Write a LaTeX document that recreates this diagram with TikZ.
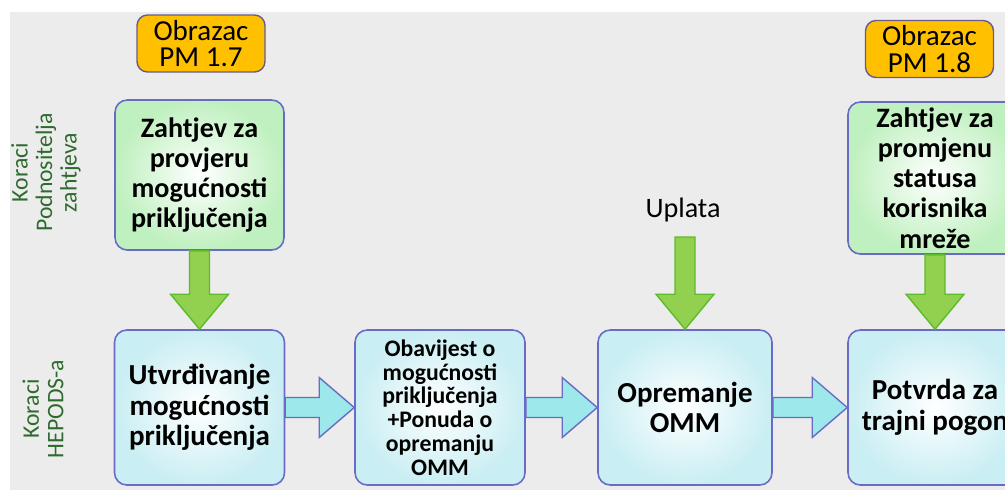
\documentclass[tikz,border=0pt]{standalone}
\usepackage{fontspec}
\setmainfont{Carlito}
\usetikzlibrary{calc}

\definecolor{bggray}{HTML}{ECECEC}
\definecolor{formfill}{HTML}{FFC000}
\definecolor{formline}{HTML}{6A5A8A}
\definecolor{boxline}{HTML}{6B6BC6}
\definecolor{greenout}{HTML}{BFF0BF}
\definecolor{cyanout}{HTML}{C9EEF3}
\definecolor{greenarrow}{HTML}{92D050}
\definecolor{greenedge}{HTML}{5DBB2C}
\definecolor{cyanarrow}{HTML}{9CE8EA}
\definecolor{labelgreen}{HTML}{2F6B2F}

\tikzset{
	form/.style={draw=formline, line width=0.8pt, fill=formfill, rounded corners=6pt,
		minimum width=2.56cm, minimum height=1.14cm, inner sep=0pt, align=center,
		font=\fontsize{16.5}{15}\selectfont},
	request/.style={draw=boxline, line width=0.9pt, rounded corners=7pt,
		inner color=white, outer color=greenout, minimum width=3.38cm, minimum height=3cm,
		inner sep=0pt, align=center, font=\bfseries\fontsize{16}{17.2}\selectfont},
	stage/.style={draw=boxline, line width=0.9pt, rounded corners=7pt,
		inner color=white, outer color=cyanout, minimum width=3.4cm, minimum height=3.1cm,
		inner sep=0pt, align=center, font=\bfseries\fontsize{16.5}{17.5}\selectfont},
	lane/.style={rotate=90, align=center, text=labelgreen, font=\fontsize{13.5}{14}\selectfont},
	downflow/.style={draw=greenedge, line width=0.8pt, fill=greenarrow},
	sideflow/.style={draw=boxline, line width=0.8pt, fill=cyanarrow}
}

% vertical block arrow: from #1 down to #2
\newcommand{\downarrowblk}[2]{
	\draw[downflow] ($(#1)+(-0.2,0)$) -- ($(#2)+(-0.2,0.7)$) -- ($(#2)+(-0.58,0.7)$)
		-- (#2) -- ($(#2)+(0.58,0.7)$) -- ($(#2)+(0.2,0.7)$) -- ($(#1)+(0.2,0)$) -- cycle;
}
% horizontal block arrow: from #1 right to #2
\newcommand{\sidearrowblk}[2]{
	\draw[sideflow] ($(#1)+(0,0.2)$) -- ($(#2)+(-0.7,0.2)$) -- ($(#2)+(-0.7,0.6)$)
		-- (#2) -- ($(#2)+(-0.7,-0.6)$) -- ($(#2)+(-0.7,-0.2)$) -- ($(#1)+(0,-0.2)$) -- cycle;
}

\begin{document}
\begin{tikzpicture}
	% Background
	\useasboundingbox (0,0) rectangle (20.1,-9.8);
	\fill[white] (0,0) rectangle (20.1,-9.8);
	\fill[bggray] (0.2,-0.24) rectangle (20.1,-9.8);
	% Lanes
	\node[lane] (lane1) at (0.92,-3.45) {Koraci\\Podnositelja\\zahtjeva};
	\node[lane] (lane2) at (0.86,-8.18) {Koraci\\HEPODS-a};
	% Forms
	\node[form] (pm17) at (4.02,-0.87) {Obrazac\\PM 1.7};
	\node[form] (pm18) at (18.59,-0.98) {Obrazac\\PM 1.8};
	% Applicant steps
	\node[request] (z1) at (3.99,-3.5) {Zahtjev za\\provjeru\\mogućnosti\\priključenja};
	\node[request, minimum width=3.48cm, minimum height=3.04cm] (z4) at (18.7,-3.56)
		{Zahtjev za\\promjenu\\statusa\\korisnika\\mreže};
	\node[font=\fontsize{16}{17}\selectfont] (uplata) at (13.66,-4.2) {Uplata};
	\coordinate (u3top) at (13.7,-4.74);
	% Operator steps
	\node[stage] (u1) at (3.99,-8.15) {Utvrđivanje\\mogućnosti\\priključenja};
	\node[stage, font=\bfseries\fontsize{13.5}{13.5}\selectfont] (u2) at (8.8,-8.15)
		{Obavijest o\\mogućnosti\\priključenja\\+Ponuda o\\opremanju\\OMM};
	\node[stage, minimum width=3.48cm] (u3) at (13.7,-8.15) {Opremanje\\OMM};
	\node[stage, minimum width=3.48cm] (u4) at (18.7,-8.15) {Potvrda za\\trajni pogon};
	% Arrows
	\downarrowblk{z1.south}{u1.north}
	\downarrowblk{u3top}{u3.north}
	\downarrowblk{z4.south}{u4.north}
	\sidearrowblk{u1.east}{u2.west}
	\sidearrowblk{u2.east}{u3.west}
	\sidearrowblk{u3.east}{u4.west}
\end{tikzpicture}
\end{document}
